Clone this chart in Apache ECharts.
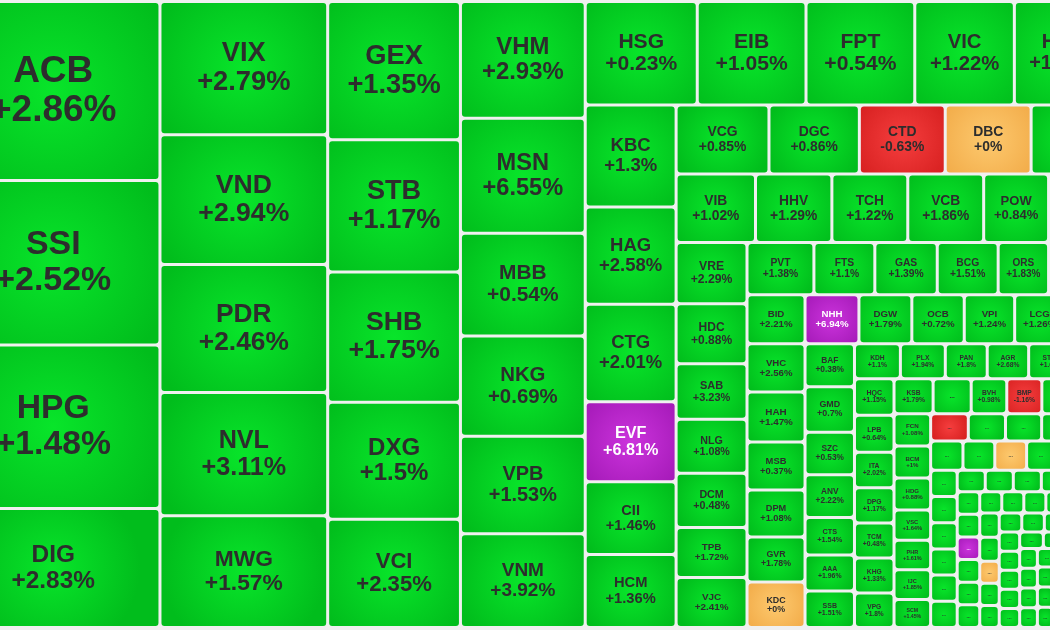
<!DOCTYPE html>
<html>
<head>
<meta charset="utf-8">
<title>Stock heatmap</title>
<script src="https://cdn.jsdelivr.net/npm/echarts@6/dist/echarts.min.js"></script>
<style>
  html, body { margin: 0; padding: 0; background: #f0f0f0; }
  #chart { width: 1050px; height: 630px; }
</style>
</head>
<body>
<div id="chart"></div>
<script>
// tickers in the order they are laid out ('...' = name not printed / off screen)
const tickers = [
  'ACB', 'SSI', 'HPG', 'DIG',
  'VIX', 'VND', 'PDR', 'NVL', 'MWG',
  'GEX', 'STB', 'SHB', 'DXG', 'VCI',
  'VHM', 'MSN', 'MBB', 'NKG', 'VPB', 'VNM',
  'HSG', 'EIB', 'FPT', 'VIC', 'HDB',
  'KBC', 'HAG', 'CTG', 'EVF', 'CII', 'HCM',
  'VCG', 'DGC', 'CTD', 'DBC', '...',
  'VIB', 'HHV', 'TCH', 'VCB', 'POW', '...',
  'VRE', 'HDC', 'SAB', 'NLG', 'DCM', 'TPB', 'VJC',
  'PVT', 'FTS', 'GAS', 'BCG', 'ORS', '...', '...',
  'BID', 'VHC', 'HAH', 'MSB', 'DPM', 'GVR', 'KDC',
  'NHH', 'DGW', 'OCB', 'VPI', 'LCG', '...',
  'BAF', 'GMD', 'SZC', 'ANV', 'CTS', 'AAA', 'SSB',
  'KDH', 'PLX', 'PAN', 'AGR', 'STG', '...',
  'HQC', 'LPB', 'ITA', 'DPG', 'TCM', 'KHG', 'VPG',
  'KSB', '...', 'BVH', 'BMP', '...', '...',
  'FCN', 'BCM', 'HDG', 'VSC', 'PHR', 'IJC', 'SCM'
];

// % change of each ticker (null = not shown)
const changes = [
  2.86, 2.52, 1.48, 2.83,
  2.79, 2.94, 2.46, 3.11, 1.57,
  1.35, 1.17, 1.75, 1.5, 2.35,
  2.93, 6.55, 0.54, 0.69, 1.53, 3.92,
  0.23, 1.05, 0.54, 1.22, 1.15,
  1.3, 2.58, 2.01, 6.81, 1.46, 1.36,
  0.85, 0.86, -0.63, 0, null,
  1.02, 1.29, 1.22, 1.86, 0.84, null,
  2.29, 0.88, 3.23, 1.08, 0.48, 1.72, 2.41,
  1.38, 1.1, 1.39, 1.51, 1.83, null, null,
  2.21, 2.56, 1.47, 0.37, 1.08, 1.78, 0,
  6.94, 1.79, 0.72, 1.24, 1.26, null,
  0.38, 0.7, 0.53, 2.22, 1.54, 1.96, 1.51,
  1.1, 1.94, 1.8, 2.68, 1.6, null,
  1.15, 0.64, 2.02, 1.17, 0.48, 1.33, 1.8,
  1.79, null, 0.98, -1.16, null, null,
  1.08, 1, 0.88, 1.64, 1.61, 1.85, 1.45
];

// traded value weight (cell size)
const weights = [
  38217, 35121, 34907, 25407,
  22344, 21756, 21504, 20664, 18732,
  18354, 17556, 17290, 15561, 14364,
  14562, 14375, 12812, 12500, 12187, 11687,
  11588, 11250, 11250, 10300, 10100,
  9282, 8827, 8872, 7280, 6598, 6643,
  6417, 6245, 5934, 5934, 5589,
  5446, 5240, 5206, 5206, 4453, 4350,
  4331, 4260, 3940, 3834, 3834, 3550, 3550,
  3484, 3172, 3250, 3172, 2626, 1664, 1638,
  2842, 2813, 2900, 2784, 2726, 2610, 2639,
  2646, 2597, 2573, 2475, 2450, 2328,
  2129, 2252, 2104, 2104, 1856, 1782, 1807,
  1610, 1575, 1470, 1453, 1453, 1470,
  1442, 1462, 1402, 1402, 1383, 1383, 1363,
  1365, 1330, 1243, 1225, 1225, 1225,
  1186, 1168, 1168, 1113, 1077, 1095, 1022
];

// tiny cells that only show "..."
const smallWeights = [
  1031, 1018, 990, 963, 963,
  944, 929, 929, 831, 831, 831,
  696, 696, 696, 696, 696, 696,
  602, 602, 602, 516, 516, 484,
  510, 510, 510, 510, 510, 510,
  470, 470, 470, 470, 470, 470, 470, 470,
  430, 430, 430, 430, 430, 430, 430, 430,
  390, 390, 390, 390, 390, 390, 390, 390,
  350, 350, 350, 350, 350, 350, 350, 350,
  320, 320, 320, 320, 320, 320, 320, 320,
  285, 285, 285, 285, 285, 285, 285, 285
];
// u = up, d = down, r = unchanged, c = ceiling
const smallMoves = 'duuuu' + 'uuruuu' + 'uuuuuu' + 'uuuuuu' + 'uucuuu' +
  'uuuuuuuu' + 'ruuuuuuu' + 'uuuuuuuu' + 'uuuuuuuu' + 'uuuuuudu' + 'uuuudduu';

// how many consecutive cells share one strip of the map
const stripSizes = [4, 5, 5, 6, 5, 6, 5, 6, 7, 7, 7, 6, 7, 6, 7, 6, 7, 5, 6, 6, 6, 6];

const gapColour = '#f0f0f0';
const palette = {
  u: ['#08e52a', '#01bd1c'],
  d: ['#f53e3e', '#d92222'],
  r: ['#fdc96e', '#f3ae4c'],
  c: ['#cb33dc', '#a51ab8']
};

function fill(m) {
  return {
    type: 'radial', x: 0.5, y: 0.5, r: 0.75,
    colorStops: [{ offset: 0, color: palette[m][0] }, { offset: 1, color: palette[m][1] }]
  };
}

function moveOf(ch) {
  if (ch == null) return 'u';
  if (ch >= 6.7) return 'c';
  if (ch > 0) return 'u';
  if (ch === 0) return 'r';
  return 'd';
}

function clamp(v, a, b) { return Math.max(a, Math.min(b, v)); }

function buildLeaves(sides) {
  const cells = [];
  tickers.forEach((t, i) => cells.push({ name: t, value: weights[i], pct: changes[i], move: moveOf(changes[i]) }));
  smallWeights.forEach((w, i) => cells.push({ name: '...', value: w, pct: null, move: smallMoves[i] }));
  return cells.map((c, i) => {
    const side = sides && sides[i] ? sides[i] : Math.sqrt(c.value) * 0.9;
    let fs = c.pct == null ? clamp(side * 0.2, 5, 7) : clamp(side * 0.21, 5, 38);
    fs = Math.round(fs * 10) / 10;
    return {
      name: c.name,
      value: c.value,
      idx: i,
      pct: c.pct,
      itemStyle: { color: fill(c.move) },
      label: {
        fontSize: fs,
        lineHeight: Math.round(fs * 1.06),
        color: c.move === 'c' ? '#ffffff' : '#2d2d2d'
      }
    };
  });
}

// nest the strips: [strip, rest], rest = [strip, rest] ...
function buildTree(leaves) {
  const strips = [];
  let start = 0;
  stripSizes.forEach(n => { strips.push(leaves.slice(start, start + n)); start += n; });
  let node = { name: 'rest', children: leaves.slice(start) };
  for (let k = strips.length - 1; k >= 0; k--) {
    node = { name: 'g' + k, children: [{ name: 's' + k, children: strips[k] }, node] };
  }
  return node.children;
}

function buildOption(sides) {
  return {
    backgroundColor: gapColour,
    animation: false,
    series: [{
      type: 'treemap',
      left: -52,
      top: 3,
      width: 1162.5,
      height: 623,
      roam: false,
      nodeClick: false,
      sort: false,
      squareRatio: 0.9,
      visibleMin: 0,
      breadcrumb: { show: false },
      itemStyle: { borderWidth: 0, gapWidth: 3, borderColor: gapColour, borderRadius: 3 },
      upperLabel: { show: false },
      label: {
        show: true,
        position: 'inside',
        padding: 0,
        overflow: 'none',
        fontWeight: 'bold',
        fontFamily: 'Arial, "Liberation Sans", sans-serif',
        formatter: p => p.data.pct == null
          ? '...'
          : p.name + '\n' + (p.data.pct >= 0 ? '+' : '') + p.data.pct + '%'
      },
      data: buildTree(buildLeaves(sides))
    }]
  };
}

const chart = echarts.init(document.getElementById('chart'), null, { renderer: 'canvas' });
chart.setOption(buildOption(null));

// second pass: scale each label to its laid-out cell
const sides = [];
try {
  const data = chart.getModel().getSeriesByIndex(0).getData();
  data.tree.root.eachNode(node => {
    if (node.children && node.children.length) return;
    const m = node.getModel();
    const idx = m ? m.get('idx') : null;
    const box = node.getLayout();
    if (idx != null && box) sides[idx] = Math.min(box.width, box.height);
  });
} catch (e) {
  console.log(e);
}
chart.setOption(buildOption(sides), true);
</script>
</body>
</html>
